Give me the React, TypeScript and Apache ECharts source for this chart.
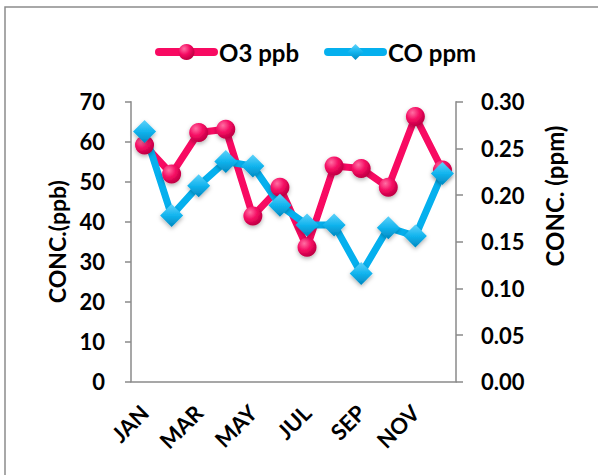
import React, { useEffect, useRef } from "react";
import * as echarts from "echarts";

const months = ["JAN", "FEB", "MAR", "APR", "MAY", "JUN", "JUL", "AUG", "SEP", "OCT", "NOV", "DEC"];
const o3ppb = [59.2, 51.9, 62.3, 63.1, 41.4, 48.6, 33.6, 53.9, 53.3, 48.6, 66.3, 52.9];
const coPpm = [0.268, 0.178, 0.21, 0.236, 0.231, 0.189, 0.168, 0.168, 0.116, 0.165, 0.156, 0.223];

const FONT = "Lato";
const AXIS_COLOR = "#8a8a8a";

export default function App() {
  const ref = useRef<HTMLDivElement>(null);
  useEffect(() => {
    if (!ref.current) return;
    const chart = echarts.init(ref.current, null, { renderer: "svg" });
    const pinkGrad = new echarts.graphic.RadialGradient(0.35, 0.3, 0.75, [
      { offset: 0, color: "#ff6fa3" },
      { offset: 0.5, color: "#f50a62" },
      { offset: 1, color: "#b8003f" },
    ]);
    const blueGrad = new echarts.graphic.LinearGradient(0, 0, 0, 1, [
      { offset: 0, color: "#5fd2fa" },
      { offset: 0.5, color: "#12b4ee" },
      { offset: 1, color: "#0088c0" },
    ]);
    chart.setOption({
      animation: false,
      backgroundColor: "#ffffff",
      textStyle: { fontFamily: FONT },
      graphic: [
        {
          type: "rect",
          shape: { x: 5, y: 7, width: 700, height: 600 },
          style: { fill: "none", stroke: "#8c8c8c", lineWidth: 1.5 },
          silent: true,
        },
        {
          type: "text",
          x: 554,
          y: 196,
          rotation: Math.PI / 2,
          style: {
            text: "CONC. (ppm)",
            fontFamily: FONT,
            fontWeight: "bold",
            fontSize: 24,
            fill: "#000",
            textAlign: "center",
            textVerticalAlign: "middle",
          },
        },
      ],
      legend: {
        left: 150,
        top: 35,
        itemWidth: 55,
        itemHeight: 20,
        itemGap: 25,
        lineStyle: { width: 8, cap: "round" },
        textStyle: { fontFamily: FONT, fontWeight: "bold", fontSize: 24, color: "#000" },
        data: ["O3 ppb", "CO ppm"],
      },
      grid: { left: 131, right: 142, top: 101.7, bottom: 93.3, containLabel: false },
      xAxis: {
        type: "category",
        data: months,
        boundaryGap: true,
        axisLine: { lineStyle: { color: AXIS_COLOR, width: 1.5 } },
        axisTick: { interval: 0, length: 6, lineStyle: { color: AXIS_COLOR, width: 1.5 } },
        axisLabel: {
          interval: 1,
          rotate: 45,
          margin: 27,
          fontFamily: FONT,
          fontWeight: "bold",
          fontSize: 22,
          color: "#000",
        },
      },
      yAxis: [
        {
          type: "value",
          min: 0,
          max: 70,
          interval: 10,
          position: "left",
          name: "CONC.(ppb)",
          nameLocation: "middle",
          nameRotate: 90,
          nameGap: 63,
          nameTextStyle: { fontFamily: FONT, fontWeight: "bold", fontSize: 23, color: "#000" },
          splitLine: { show: false },
          axisLine: { show: true, lineStyle: { color: AXIS_COLOR, width: 1.5 } },
          axisTick: { show: true, length: 6, lineStyle: { color: AXIS_COLOR, width: 1.5 } },
          axisLabel: { margin: 26, fontFamily: FONT, fontWeight: "bold", fontSize: 22, color: "#000" },
        },
        {
          type: "value",
          min: 0,
          max: 0.3,
          interval: 0.05,
          position: "right",
          splitLine: { show: false },
          axisLine: { show: true, lineStyle: { color: AXIS_COLOR, width: 1.5 } },
          axisTick: { show: true, length: 7, lineStyle: { color: AXIS_COLOR, width: 1.5 } },
          axisLabel: {
            margin: 25,
            fontFamily: FONT,
            fontWeight: "bold",
            fontSize: 22,
            color: "#000",
            formatter: (v: number) => v.toFixed(2),
          },
        },
      ],
      series: [
        {
          name: "O3 ppb",
          type: "line",
          yAxisIndex: 0,
          data: o3ppb,
          symbol: "circle",
          symbolSize: 19,
          showAllSymbol: true,
          lineStyle: { color: "#f80a62", width: 7 },
          itemStyle: {
            color: pinkGrad,
            borderWidth: 0,
            shadowColor: "rgba(0,0,0,0.3)",
            shadowBlur: 4,
            shadowOffsetY: 2,
          },
        },
        {
          name: "CO ppm",
          type: "line",
          yAxisIndex: 1,
          data: coPpm,
          symbol: "diamond",
          symbolSize: [23, 23],
          showAllSymbol: true,
          lineStyle: { color: "#05b0ee", width: 7 },
          itemStyle: {
            color: blueGrad,
            borderWidth: 0,
            shadowColor: "rgba(0,0,0,0.3)",
            shadowBlur: 4,
            shadowOffsetY: 2,
          },
        },
      ],
    });
    return () => chart.dispose();
  }, []);
  return (
    <div
      ref={ref}
      style={{ position: "absolute", left: 0, top: 0, width: 598, height: 475 }}
    />
  );
}
